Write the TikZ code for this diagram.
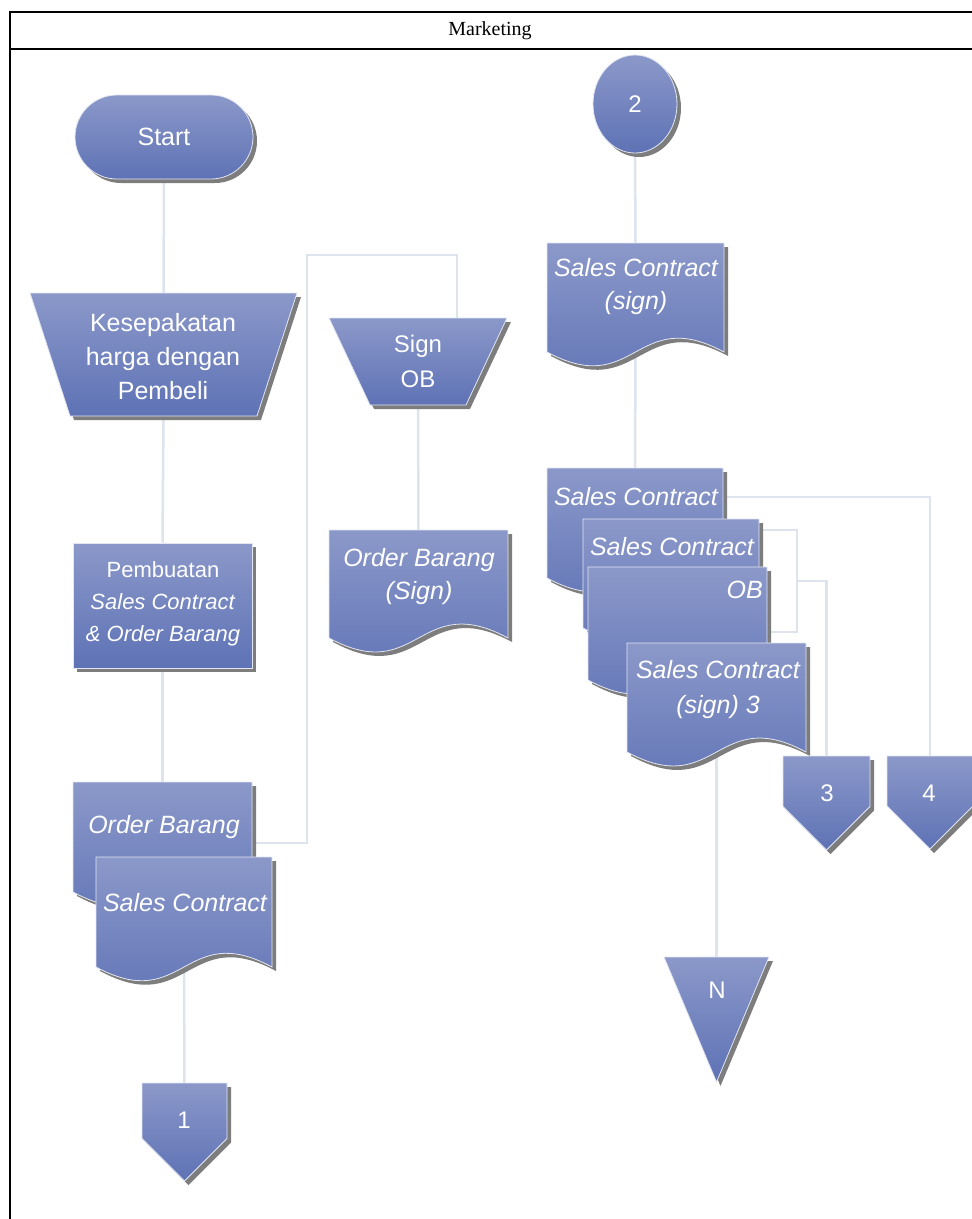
\documentclass[tikz,border=0pt]{standalone}
\usepackage{fontspec}
\setmainfont{Liberation Serif}
\setsansfont{Liberation Sans}
\usetikzlibrary{shadows,shapes.geometric,calc}
\definecolor{ftop}{RGB}{139,152,201}
\definecolor{fbot}{RGB}{94,114,181}
\definecolor{fedge}{RGB}{226,230,242}
\definecolor{shadowgray}{RGB}{125,125,125}
\definecolor{conncol}{RGB}{222,228,238}
\pgfdeclarelayer{bg}
\pgfsetlayers{bg,main}
\tikzset{
  flow/.style={top color=ftop, bottom color=fbot, draw=fedge, line width=0.8pt,
    drop shadow={shadow xshift=4pt, shadow yshift=-4pt, fill=shadowgray, opacity=1}},
  box/.style={inner sep=0pt, outer sep=0pt},
  lbl/.style={text=white, font=\sffamily\fontsize{25}{34}\selectfont, align=center, inner sep=0pt},
  conn/.style={draw=conncol, line width=2.5pt},
  frame/.style={draw=black, line width=2pt}
}
% document shape: name, L, T, R, B
\newcommand\mkdoc[5]{%
  \path[flow] (#2,#3) -- (#4,#3) -- (#4,#5)
    .. controls ({(#2+#4)/2},{#5-0.27*(#4-#2)}) and ({(#2+#4)/2},{#5+0.27*(#4-#2)}) .. (#2,#5) -- cycle;
  \node[box, minimum width={(#4-#2)*1pt}, minimum height={(#5-#3)*1pt}] (#1) at ({(#2+#4)/2},{(#3+#5)/2}) {};}
% off-page pentagon: name, L, T, R, B
\newcommand\mkoff[5]{%
  \path[flow] (#2,#3) -- (#4,#3) -- (#4,{#5-(#4-#2)/2}) -- ({(#2+#4)/2},#5) -- (#2,{#5-(#4-#2)/2}) -- cycle;
  \node[box, minimum width={(#4-#2)*1pt}, minimum height={(#5-#3)*1pt}] (#1) at ({(#2+#4)/2},{(#3+#5)/2}) {};}
% trapezoid (manual operation): name, L, T, R, B, inset
\newcommand\mktrap[6]{%
  \path[flow] (#2,#3) -- (#4,#3) -- ({#4-#6},#5) -- ({#2+#6},#5) -- cycle;
  \node[box, minimum width={(#4-#2)*1pt}, minimum height={(#5-#3)*1pt}] (#1) at ({(#2+#4)/2},{(#3+#5)/2}) {};}
% triangle: name, L, T, R, B
\newcommand\mktri[5]{%
  \path[flow] (#2,#3) -- (#4,#3) -- ({(#2+#4)/2},#5) -- cycle;
  \node[box, minimum width={(#4-#2)*1pt}, minimum height={(#5-#3)*1pt}] (#1) at ({(#2+#4)/2},{(#3+#5)/2}) {};}
\begin{document}
\begin{tikzpicture}[x=1pt,y=-1pt]
\useasboundingbox (0,0) rectangle (972,1219);
% frame
\draw[frame] (10,1220) -- (10,12) -- (974,12);
\draw[frame] (10,49) -- (974,49);
\node[font=\rmfamily\fontsize{20}{24}\selectfont, inner sep=0pt] (hdr) at (490,31) {Marketing};

% left column
\node[flow, rounded corners=42pt, minimum width=178pt, minimum height=84pt, inner sep=0pt,
  text=white, font=\sffamily\fontsize{25}{30}\selectfont] (start) at (164,137) {Start};

\mktrap{kes}{30}{293}{297}{416}{40}
\node[lbl] (kes-t) at (163,357) {Kesepakatan\\harga dengan\\Pembeli};

\node[flow, minimum width=179pt, minimum height=125pt, inner sep=0pt] (pemb) at (162.5,605.5) {};
\node[lbl, font=\sffamily\fontsize{22}{32}\selectfont] (pemb-t) at (163,604)
  {Pembuatan\\\textit{Sales Contract}\\\textit{\& Order Barang}};

\mkdoc{ob1}{73}{782}{252}{892}
\node[lbl, font=\sffamily\itshape\fontsize{25}{34}\selectfont] (ob1-t) at (164,827) {Order Barang};
\mkdoc{sc1}{96}{857}{272}{967}
\node[lbl, font=\sffamily\itshape\fontsize{25}{34}\selectfont] (sc1-t) at (185,903) {Sales Contract};

\mkoff{off1}{142}{1083}{227}{1181}
\node[lbl, font=\sffamily\fontsize{24}{30}\selectfont] (off1-t) at (184,1120) {1};

% middle column
\mktrap{signob}{329}{318}{507}{405}{41}
\node[lbl, font=\sffamily\fontsize{24}{35}\selectfont] (signob-t) at (418,361) {Sign\\OB};

\mkdoc{obsign}{329}{530}{508}{638}
\node[lbl, font=\sffamily\itshape\fontsize{25}{33}\selectfont] (obsign-t) at (419,577) {Order Barang\\(Sign)};

% right column
\node[flow, ellipse, minimum width=84pt, minimum height=98pt, inner sep=0pt,
  text=white, font=\sffamily\fontsize{24}{30}\selectfont] (c2) at (635,104) {2};

\mkdoc{scsign}{547}{243}{724}{352}
\node[lbl, font=\sffamily\itshape\fontsize{25}{33}\selectfont] (scsign-t) at (636,287) {Sales Contract\\(sign)};

\mkdoc{docA}{547}{468}{723}{578}
\node[lbl, font=\sffamily\itshape\fontsize{25}{33}\selectfont] (docA-t) at (636,497) {Sales Contract};
\mkdoc{docB}{583}{519}{759}{628}
\node[lbl, font=\sffamily\itshape\fontsize{25}{33}\selectfont] (docB-t) at (672,547) {Sales Contract};
\mkdoc{docC}{588}{567}{767}{680}
\node[lbl, font=\sffamily\itshape\fontsize{25}{33}\selectfont, anchor=east] (docC-t) at (763,590) {OB};
\mkdoc{docD}{627}{643}{806}{752}
\node[lbl, font=\sffamily\itshape\fontsize{25}{35}\selectfont] (docD-t) at (718,690) {Sales Contract\\(sign) 3};

\mkoff{off3}{783}{756}{870}{850}
\node[lbl, font=\sffamily\fontsize{24}{30}\selectfont] (off3-t) at (827,793) {3};
\mkoff{off4}{887}{756}{973}{849}
\node[lbl, font=\sffamily\fontsize{24}{30}\selectfont] (off4-t) at (929,793) {4};

\mktri{nn}{664}{957}{769}{1082}
\node[lbl, font=\sffamily\fontsize{24}{30}\selectfont] (nn-t) at (717,990) {N};

% connectors
\begin{pgfonlayer}{bg}
\draw[conn] (start.south) -- (kes.north);
\draw[conn] (kes.south) -- (pemb.north);
\draw[conn] (pemb.south) -- (ob1.north);
\draw[conn] ($(ob1.east)+(0,6)$) -| (307,255) -| ($(signob.north)+(39,0)$);
\draw[conn] (signob.south) -- (obsign.north);
\draw[conn] (sc1.south) -- (off1.north);
\draw[conn] (c2.south) -- (scsign.north);
\draw[conn] (scsign.south) -- (docA.north);
\draw[conn] ($(docA.east)+(0,-26)$) -| (off4.north);
\coordinate (brk) at (797,581);
\draw[conn] ($(docB.east)+(0,-43.5)$) -| (brk) |- ($(docC.east)+(0,8.5)$);
\draw[conn] (brk) -| (off3.north);
\draw[conn] (docD.south) -- (nn.north);
\end{pgfonlayer}
\end{tikzpicture}
\end{document}
